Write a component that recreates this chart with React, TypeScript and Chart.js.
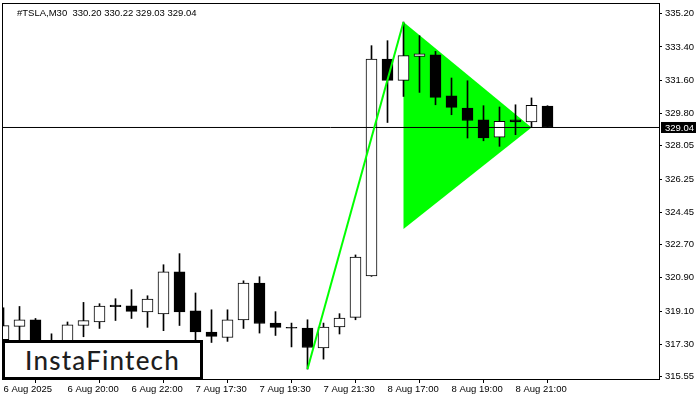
import React, { useEffect, useRef } from "react";
import { Chart, registerables } from "chart.js";

Chart.register(...registerables);

// ---- data (M30 bars, index 0..34) ----
const opens = [
  317.55, 318.27, 318.63, 317.35, 317.3, 318.32, 318.51, 319.43, 319.39, 319.05,
  318.94, 321.22, 319.12, 317.97, 317.67, 318.62, 320.62, 318.45, 318.19, 318.18,
  317.1, 318.24, 318.76, 321.0, 332.75, 331.59, 332.89, 332.98, 330.76, 330.09,
  329.46, 328.52, 329.46, 329.34, 330.2,
];
const highs = [
  319.28, 319.35, 318.7, 317.87, 318.51, 319.57, 319.5, 319.77, 320.26, 319.93,
  321.61, 322.21, 320.08, 319.17, 319.17, 320.74, 320.96, 319.07, 318.45, 318.63,
  318.45, 318.96, 322.14, 333.47, 333.74, 334.75, 334.01, 333.16, 331.72, 331.57,
  330.22, 330.15, 330.27, 330.64, 330.22,
];
const lows = [
  317.3, 317.39, 317.2, 317.0, 317.1, 317.71, 318.16, 318.59, 318.7, 318.22,
  318.04, 318.32, 317.4, 317.4, 317.46, 318.16, 317.91, 317.78, 317.16, 315.96,
  316.5, 317.86, 318.63, 320.98, 329.31, 330.72, 330.94, 330.27, 329.73, 328.47,
  328.32, 328.02, 328.65, 329.07, 329.03,
];
const closes = [
  318.31, 318.63, 317.3, 317.2, 318.35, 318.58, 319.37, 319.34, 319.08, 319.75,
  321.22, 319.05, 317.97, 317.73, 318.62, 320.62, 318.43, 318.22, 318.17, 317.13,
  318.24, 318.72, 322.03, 332.75, 331.59, 332.93, 333.03, 330.67, 330.13, 329.42,
  328.47, 329.37, 329.34, 330.24, 329.04,
];

const xTickIndex = [0, 4, 8, 12, 16, 20, 24, 28, 32];
const xTickLabels = [
  "6 Aug 2025",
  "6 Aug 20:00",
  "6 Aug 22:00",
  "7 Aug 17:30",
  "7 Aug 19:30",
  "7 Aug 21:30",
  "8 Aug 17:00",
  "8 Aug 19:00",
  "8 Aug 21:00",
];
const yTickValues = [
  335.2, 333.4, 331.6, 329.8, 328.05, 326.25, 324.45, 322.7, 320.9, 319.1, 317.3, 315.55,
];

const poleIndex = [19, 25];
const poleValues = [315.96, 334.75];
const pennantIndex = [25, 33, 25, 25];
const pennantValues = [334.75, 329.04, 323.54, 334.75];

const titleText = "#TSLA,M30  330.20 330.22 329.03 329.04";
const lastPrice = 329.04;

const FONT = "'Liberation Sans', Arial, sans-serif";
const GREEN = "#00ff00";

const X_MIN = -0.09375;
const X_MAX = 40.96875;
const Y_MIN = 315.423;
const Y_MAX = 335.78;

const overlayPlugin = {
  id: "overlayPlugin",
  afterDraw(chart: any) {
    const { ctx, chartArea: a, scales } = chart;
    ctx.save();
    // frame
    ctx.strokeStyle = "#000";
    ctx.lineWidth = 1;
    ctx.strokeRect(
      Math.round(a.left) + 0.5,
      Math.round(a.top) + 0.5,
      Math.round(a.right - a.left),
      Math.round(a.bottom - a.top)
    );
    // title
    ctx.fillStyle = "#000";
    ctx.font = `9.5px ${FONT}`;
    ctx.textBaseline = "middle";
    ctx.textAlign = "left";
    ctx.fillText(titleText, 17, 13);
    // last price label
    const y = scales.y.getPixelForValue(lastPrice);
    ctx.fillStyle = "#000";
    ctx.fillRect(Math.round(a.right) + 2, y - 5.5, 35, 11);
    ctx.fillStyle = "#fff";
    ctx.fillText(lastPrice.toFixed(2), Math.round(a.right) + 6, y + 0.5);
    ctx.restore();
  },
};

export default function App() {
  const ref = useRef<HTMLCanvasElement | null>(null);

  useEffect(() => {
    if (!ref.current) return;
    const idx = opens.map((_, i) => i);
    const bodyColors = opens.map((o, i) => (closes[i] >= o ? "#ffffff" : "#000000"));

    const chart = new Chart(ref.current, {
      type: "bar",
      data: {
        datasets: [
          {
            type: "line",
            label: "pennant",
            data: pennantIndex.map((x, i) => ({ x, y: pennantValues[i] })),
            borderWidth: 0,
            borderColor: GREEN,
            backgroundColor: GREEN,
            fill: "shape",
            pointRadius: 0,
            tension: 0,
            order: 10,
          } as any,
          {
            type: "bar",
            label: "wicks",
            data: idx.map((i) => ({ x: i, y: [lows[i], highs[i]] })),
            backgroundColor: "#000",
            barThickness: 1,
            grouped: false,
            order: 6,
          } as any,
          {
            type: "bar",
            label: "bodies",
            data: idx.map((i) => ({ x: i, y: [opens[i], closes[i]] })),
            backgroundColor: bodyColors,
            borderColor: "#000",
            borderWidth: 1,
            borderSkipped: false,
            barThickness: 11,
            minBarLength: 1,
            grouped: false,
            order: 5,
          } as any,
          {
            type: "line",
            label: "last",
            data: [
              { x: X_MIN, y: lastPrice },
              { x: X_MAX, y: lastPrice },
            ],
            borderColor: "#000",
            borderWidth: 1,
            pointRadius: 0,
            fill: false,
            order: 3,
          } as any,
          {
            type: "line",
            label: "pole",
            data: poleIndex.map((x, i) => ({ x, y: poleValues[i] })),
            borderColor: GREEN,
            borderWidth: 2,
            pointRadius: 0,
            fill: false,
            order: 1,
          } as any,
        ],
      },
      options: {
        animation: false,
        responsive: false,
        maintainAspectRatio: false,
        layout: { padding: { left: 2, top: 3, right: 0, bottom: 0 } },
        plugins: {
          legend: { display: false },
          tooltip: { enabled: false },
          title: { display: false },
        },
        events: [],
        scales: {
          x: {
            type: "linear",
            position: "bottom",
            min: X_MIN,
            max: X_MAX,
            offset: false,
            afterBuildTicks: (scale: any) => {
              scale.ticks = xTickIndex.map((v) => ({ value: v }));
            },
            afterFit: (scale: any) => {
              scale.height = 21;
              scale.paddingLeft = 0;
              scale.paddingRight = 0;
            },
            grid: {
              drawOnChartArea: false,
              drawTicks: true,
              tickLength: 4,
              color: "#000",
            },
            border: { display: false },
            ticks: {
              align: "start",
              autoSkip: false,
              maxRotation: 0,
              minRotation: 0,
              padding: 1,
              color: "#000",
              font: { family: FONT, size: 9.5 },
              callback: (value: any) => {
                const k = xTickIndex.indexOf(Number(value));
                return k >= 0 ? xTickLabels[k] : "";
              },
            },
          },
          y: {
            type: "linear",
            position: "right",
            min: Y_MIN,
            max: Y_MAX,
            afterBuildTicks: (scale: any) => {
              scale.ticks = yTickValues.map((v) => ({ value: v }));
            },
            afterFit: (scale: any) => {
              scale.width = 41;
              scale.paddingTop = 0;
              scale.paddingBottom = 0;
            },
            grid: {
              drawOnChartArea: false,
              drawTicks: true,
              tickLength: 3,
              color: "#000",
            },
            border: { display: false },
            ticks: {
              padding: 3,
              color: "#000",
              font: { family: FONT, size: 9.5 },
              callback: (value: any) => Number(value).toFixed(2),
            },
          },
        },
      } as any,
      plugins: [overlayPlugin],
    });
    return () => chart.destroy();
  }, []);

  return (
    <div
      style={{
        position: "fixed",
        left: 0,
        top: 0,
        width: 700,
        height: 400,
        background: "#fff",
      }}
    >
      <canvas ref={ref} width={700} height={400} style={{ display: "block" }} />
      <div
        style={{
          position: "absolute",
          left: 2,
          top: 340,
          width: 201,
          height: 40,
          boxSizing: "border-box",
          border: "3px solid #000",
          background: "#fff",
          display: "flex",
          alignItems: "center",
          justifyContent: "center",
          fontFamily: "Lato, 'Open Sans', sans-serif",
          fontSize: 26,
          fontWeight: 500,
          color: "#1e1e1e",
          letterSpacing: 1.2,
        }}
      >
        InstaFintech
      </div>
    </div>
  );
}
